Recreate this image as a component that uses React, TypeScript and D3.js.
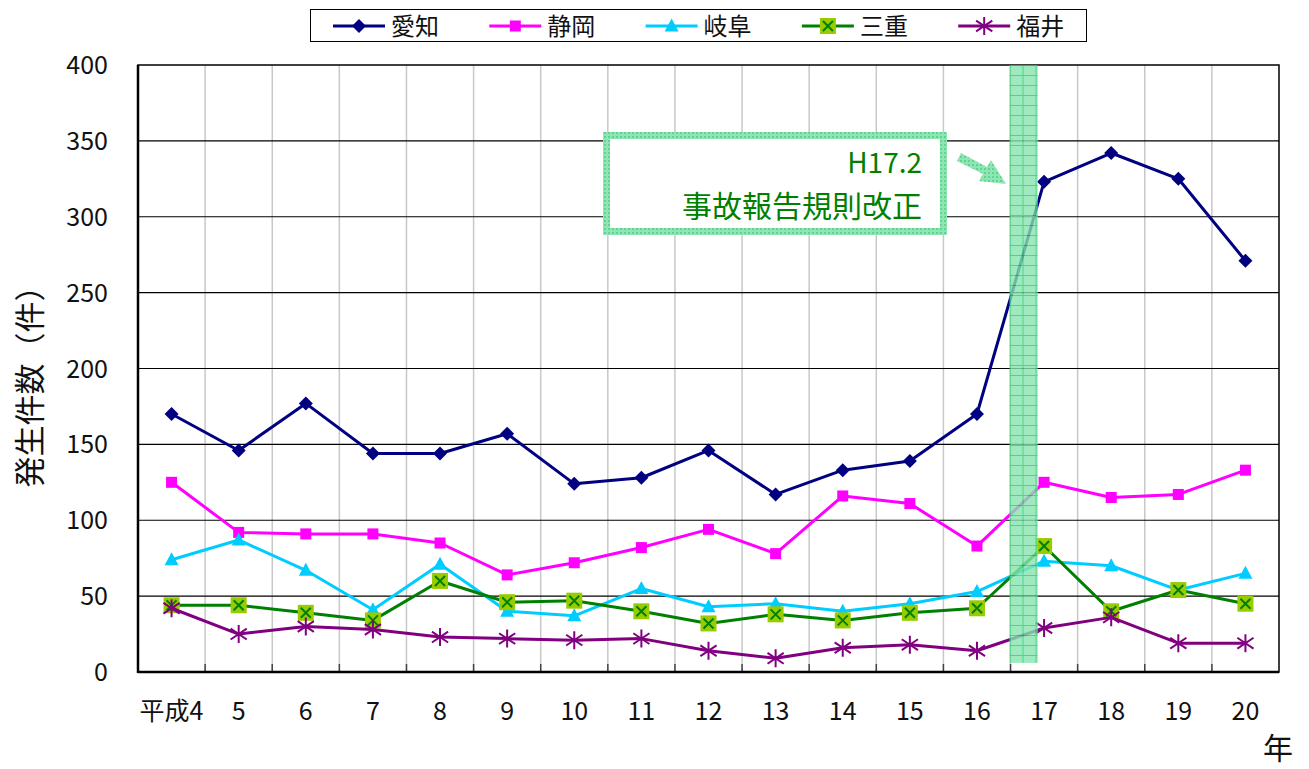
import * as d3 from "d3";

const years = ["平成4", "5", "6", "7", "8", "9", "10", "11", "12", "13", "14", "15", "16", "17", "18", "19", "20"];

const aichi = [170, 146, 177, 144, 144, 157, 124, 128, 146, 117, 133, 139, 170, 323, 342, 325, 271];
const shizuoka = [125, 92, 91, 91, 85, 64, 72, 82, 94, 78, 116, 111, 83, 125, 115, 117, 133];
const gifu = [74, 87, 67, 41, 71, 40, 37, 55, 43, 45, 40, 45, 53, 73, 70, 54, 65];
const mie = [44, 44, 39, 34, 60, 46, 47, 40, 32, 38, 34, 39, 42, 83, 40, 54, 45];
const fukui = [42, 25, 30, 28, 23, 22, 21, 22, 14, 9, 16, 18, 14, 29, 36, 19, 19];

const yTicks = [0, 50, 100, 150, 200, 250, 300, 350, 400];

const seriesList = [
  { name: "愛知", values: aichi, color: "#000080", marker: "diamond" },
  { name: "静岡", values: shizuoka, color: "#ff00ff", marker: "square" },
  { name: "岐阜", values: gifu, color: "#00ccff", marker: "triangle" },
  { name: "三重", values: mie, color: "#008000", marker: "xbox" },
  { name: "福井", values: fukui, color: "#800080", marker: "star" },
];

const FONT = "'Noto Sans CJK JP', 'Noto Sans', sans-serif";

const Marker = ({ type, cx, cy, color }) => {
  if (type === "diamond") {
    const r = 7;
    return <path d={`M${cx},${cy - r}L${cx + r},${cy}L${cx},${cy + r}L${cx - r},${cy}Z`} fill={color} />;
  }
  if (type === "square") {
    return <rect x={cx - 5.5} y={cy - 5.5} width={11} height={11} fill={color} />;
  }
  if (type === "triangle") {
    return <path d={`M${cx},${cy - 7.5}L${cx + 7},${cy + 5.5}L${cx - 7},${cy + 5.5}Z`} fill={color} />;
  }
  if (type === "xbox") {
    const s = 8;
    return (
      <g>
        <rect x={cx - s} y={cy - s} width={2 * s} height={2 * s} fill="#99cc00" />
        <path d={`M${cx - 5},${cy - 5}L${cx + 5},${cy + 5}M${cx + 5},${cy - 5}L${cx - 5},${cy + 5}`} stroke={color} strokeWidth={2} />
      </g>
    );
  }
  // star
  const r = 9;
  return (
    <path
      d={`M${cx},${cy - r}L${cx},${cy + r}M${cx - r * 0.9},${cy - r * 0.6}L${cx + r * 0.9},${cy + r * 0.6}M${cx + r * 0.9},${cy - r * 0.6}L${cx - r * 0.9},${cy + r * 0.6}`}
      stroke={color}
      strokeWidth={2}
    />
  );
};

const App = () => {
  const width = 1309,
    height = 769,
    left = 138,
    right = 1279,
    top = 65,
    bottom = 672;

  const x = d3.scaleBand(years, [left, right]).padding(0);
  const bw = x.bandwidth();
  const cx = (c) => x(c) + bw / 2;
  const y = d3.scaleLinear([0, 400], [bottom, top]);

  const line = d3
    .line()
    .x((d, i) => cx(years[i]))
    .y((d) => y(d));

  const bandX = x("17") - 1;
  const bandW = bw * 0.42;

  return (
    <svg width={width} height={height} style={{ position: "absolute", left: 0, top: 0 }}>
      <defs>
        <pattern id="gp" width={13} height={10} patternUnits="userSpaceOnUse" x={bandX} y={top}>
          <rect width={13} height={10} fill="#86e4ae" />
          <path d="M0,0.5H13M0.5,0V10" stroke="#22cc6a" strokeWidth={1} />
        </pattern>
        <pattern id="gp2" width={4} height={4} patternUnits="userSpaceOnUse">
          <rect width={4} height={4} fill="#8fe6b4" />
          <rect width={2} height={2} fill="#5ad68e" />
        </pattern>
      </defs>
      <rect width={width} height={height} fill="#fff" />

      {/* vertical grid */}
      {years.slice(1).map((c) => (
        <line key={c} x1={x(c)} x2={x(c)} y1={top} y2={bottom} stroke="#c8c8c8" strokeWidth={1.5} />
      ))}
      {/* horizontal grid */}
      {yTicks.slice(1, -1).map((t) => (
        <line key={t} x1={left} x2={right} y1={y(t)} y2={y(t)} stroke="#000" strokeWidth={1.2} />
      ))}
      {/* ticks on x axis */}
      {years.slice(1).map((c) => (
        <line key={c} x1={x(c)} x2={x(c)} y1={bottom - 8} y2={bottom} stroke="#444" strokeWidth={1.5} />
      ))}
      <rect x={left} y={top} width={right - left} height={bottom - top} fill="none" stroke="#000" strokeWidth={1.5} />
      <line x1={left} x2={left} y1={top} y2={bottom + 1} stroke="#000" strokeWidth={2.5} />
      <line x1={left} x2={right} y1={bottom} y2={bottom} stroke="#000" strokeWidth={2.5} />

      {/* y tick labels */}
      {yTicks.map((t) => (
        <text key={t} x={108} y={y(t)} dy="0.36em" textAnchor="end" fontFamily={FONT} fontSize={25} fill="#111">
          {t}
        </text>
      ))}
      {/* x tick labels */}
      {years.map((c) => (
        <text key={c} x={cx(c)} y={720} textAnchor="middle" fontFamily={FONT} fontSize={25} fill="#111">
          {c}
        </text>
      ))}
      <text x={1278} y={759} textAnchor="middle" fontFamily={FONT} fontSize={30} fill="#111">
        年
      </text>
      <text
        transform={`translate(41,${379}) rotate(-90)`}
        textAnchor="middle"
        fontFamily={FONT}
        fontSize={31}
        fill="#111"
      >
        発生件数（件）
      </text>

      {/* series */}
      {seriesList.map((s) => (
        <g key={s.name}>
          <path d={line(s.values)} fill="none" stroke={s.color} strokeWidth={3} strokeLinejoin="round" />
          {s.values.map((v, i) => (
            <Marker key={i} type={s.marker} cx={cx(years[i])} cy={y(v)} color={s.color} />
          ))}
        </g>
      ))}

      {/* event band */}
      <rect x={bandX} y={top} width={bandW} height={y(6) - top} fill="url(#gp)" opacity={0.8} />

      {/* annotation */}
      <rect x={606.5} y={135.5} width={337} height={96} fill="#fff" stroke="url(#gp2)" strokeWidth={7} />
      <text x={922} y={173} textAnchor="end" fontFamily={FONT} fontSize={28} fill="#008000">
        H17.2
      </text>
      <text x={922} y={217} textAnchor="end" fontFamily={FONT} fontSize={30} fill="#008000">
        事故報告規則改正
      </text>
      <path
        d="M961,153 L987,167 L991,160 L1006,184 L979,181 L983,174 L957,161 Z"
        fill="url(#gp2)"
      />

      {/* legend */}
      <rect x={310.5} y={9.5} width={776} height={32} fill="#fff" stroke="#000" strokeWidth={1} />
      {seriesList.map((s, i) => {
        const lx = 333 + i * 156.3;
        const ly = 26;
        return (
          <g key={s.name}>
            <line x1={lx} x2={lx + 52} y1={ly} y2={ly} stroke={s.color} strokeWidth={3} />
            <Marker type={s.marker} cx={lx + 26} cy={ly} color={s.color} />
            <text x={lx + 58} y={ly} dy="0.36em" fontFamily={FONT} fontSize={24} fill="#111">
              {s.name}
            </text>
          </g>
        );
      })}
    </svg>
  );
};

export default App;
